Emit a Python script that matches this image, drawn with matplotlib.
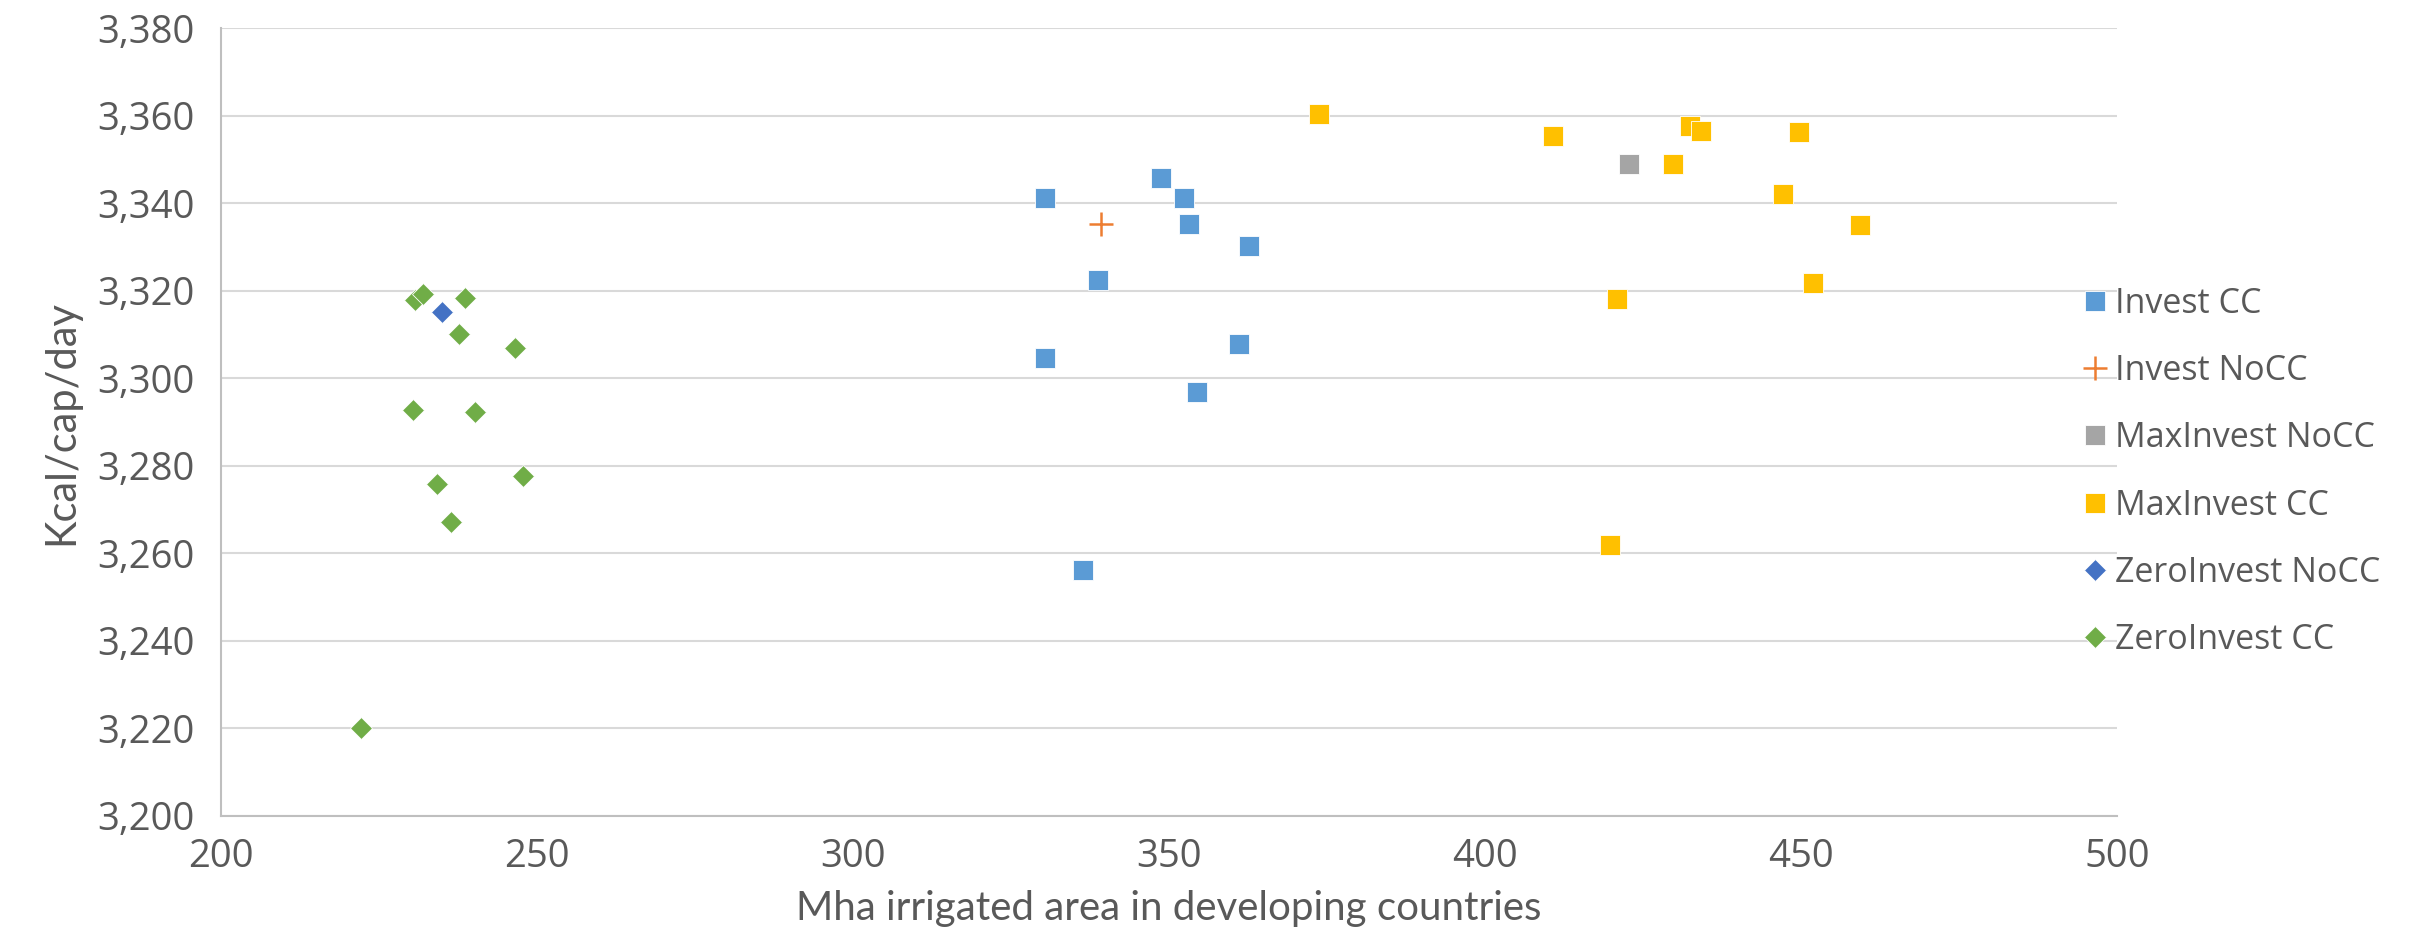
import matplotlib.pyplot as plt
from matplotlib.ticker import FuncFormatter

# data
invest_cc_x = [330.4, 348.8, 352.3, 353.2, 362.7, 338.7, 330.4, 361.1, 354.5, 336.4]
invest_cc_y = [3341.2, 3345.7, 3341.2, 3335.2, 3330.2, 3322.4, 3304.6, 3307.8, 3296.9, 3256.2]

invest_nocc_x = [339.3]
invest_nocc_y = [3335.2]

maxinvest_nocc_x = [422.8]
maxinvest_nocc_y = [3348.9]

maxinvest_cc_x = [373.7, 410.8, 432.5, 434.2, 449.7, 429.8, 447.2, 459.3, 420.9, 451.9, 419.8]
maxinvest_cc_y = [3360.3, 3355.3, 3357.6, 3356.6, 3356.2, 3348.9, 3342.0, 3335.1, 3318.2, 3321.8, 3261.9]

zeroinvest_nocc_x = [234.9]
zeroinvest_nocc_y = [3315.1]

zeroinvest_cc_x = [230.7, 232.0, 238.6, 237.7, 246.6, 230.4, 240.2, 247.8, 234.2, 236.4, 222.2]
zeroinvest_cc_y = [3317.9, 3319.2, 3318.4, 3310.1, 3306.9, 3292.8, 3292.3, 3277.7, 3275.9, 3267.2, 3220.2]

text_col = '#595959'
plt.rcParams['font.family'] = ['Open Sans', 'DejaVu Sans']

fig = plt.figure(figsize=(24.23, 9.4), dpi=100)
ax = fig.add_axes([0.0912, 0.132, 0.7825, 0.838])

ax.plot(invest_cc_x, invest_cc_y, ls='none', marker='s', ms=15, color='#5B9BD5',
        mec='white', mew=0.6, label='Invest CC', zorder=3)
ax.plot(invest_nocc_x, invest_nocc_y, ls='none', marker='+', ms=17, mew=1.8,
        color='#ED7D31', label='Invest NoCC', zorder=3)
ax.plot(maxinvest_nocc_x, maxinvest_nocc_y, ls='none', marker='s', ms=15, color='#A5A5A5',
        mec='white', mew=0.6, label='MaxInvest NoCC', zorder=3)
ax.plot(maxinvest_cc_x, maxinvest_cc_y, ls='none', marker='s', ms=15, color='#FFC000',
        mec='white', mew=0.6, label='MaxInvest CC', zorder=3)
ax.plot(zeroinvest_nocc_x, zeroinvest_nocc_y, ls='none', marker='D', ms=11, color='#4472C4',
        mec='white', mew=0.6, label='ZeroInvest NoCC', zorder=3)
ax.plot(zeroinvest_cc_x, zeroinvest_cc_y, ls='none', marker='D', ms=11, color='#70AD47',
        mec='white', mew=0.6, label='ZeroInvest CC', zorder=3)

ax.set_xlim(200, 500)
ax.set_ylim(3200, 3380)
ax.set_xticks(range(200, 501, 50))
ax.set_yticks(range(3200, 3381, 20))
ax.yaxis.set_major_formatter(FuncFormatter(lambda v, p: f'{int(v):,}'))

ax.grid(axis='y', color='#d9d9d9', lw=1.5, zorder=0)
ax.set_axisbelow(True)
for s in ['top', 'right']:
    ax.spines[s].set_visible(False)
for s in ['left', 'bottom']:
    ax.spines[s].set_color('#bfbfbf')
    ax.spines[s].set_linewidth(1.5)
ax.tick_params(length=0, labelsize=27.5, colors=text_col)
ax.tick_params(axis='y', pad=19)
ax.tick_params(axis='x', pad=16)

ax.set_xlabel('Mha irrigated area in developing countries', fontsize=29, color=text_col,
              labelpad=10, family=['Lato', 'DejaVu Sans'])
ax.set_ylabel('Kcal/cap/day', fontsize=30, color=text_col, labelpad=12,
              family=['Lato', 'DejaVu Sans'])

leg = fig.legend(loc='center left', bbox_to_anchor=(0.8505, 0.498), frameon=False,
                 fontsize=24.5, labelcolor=text_col, handletextpad=0.1, handlelength=1.0,
                 labelspacing=0.98, borderpad=0)

fig.savefig('out.png', dpi=100)
